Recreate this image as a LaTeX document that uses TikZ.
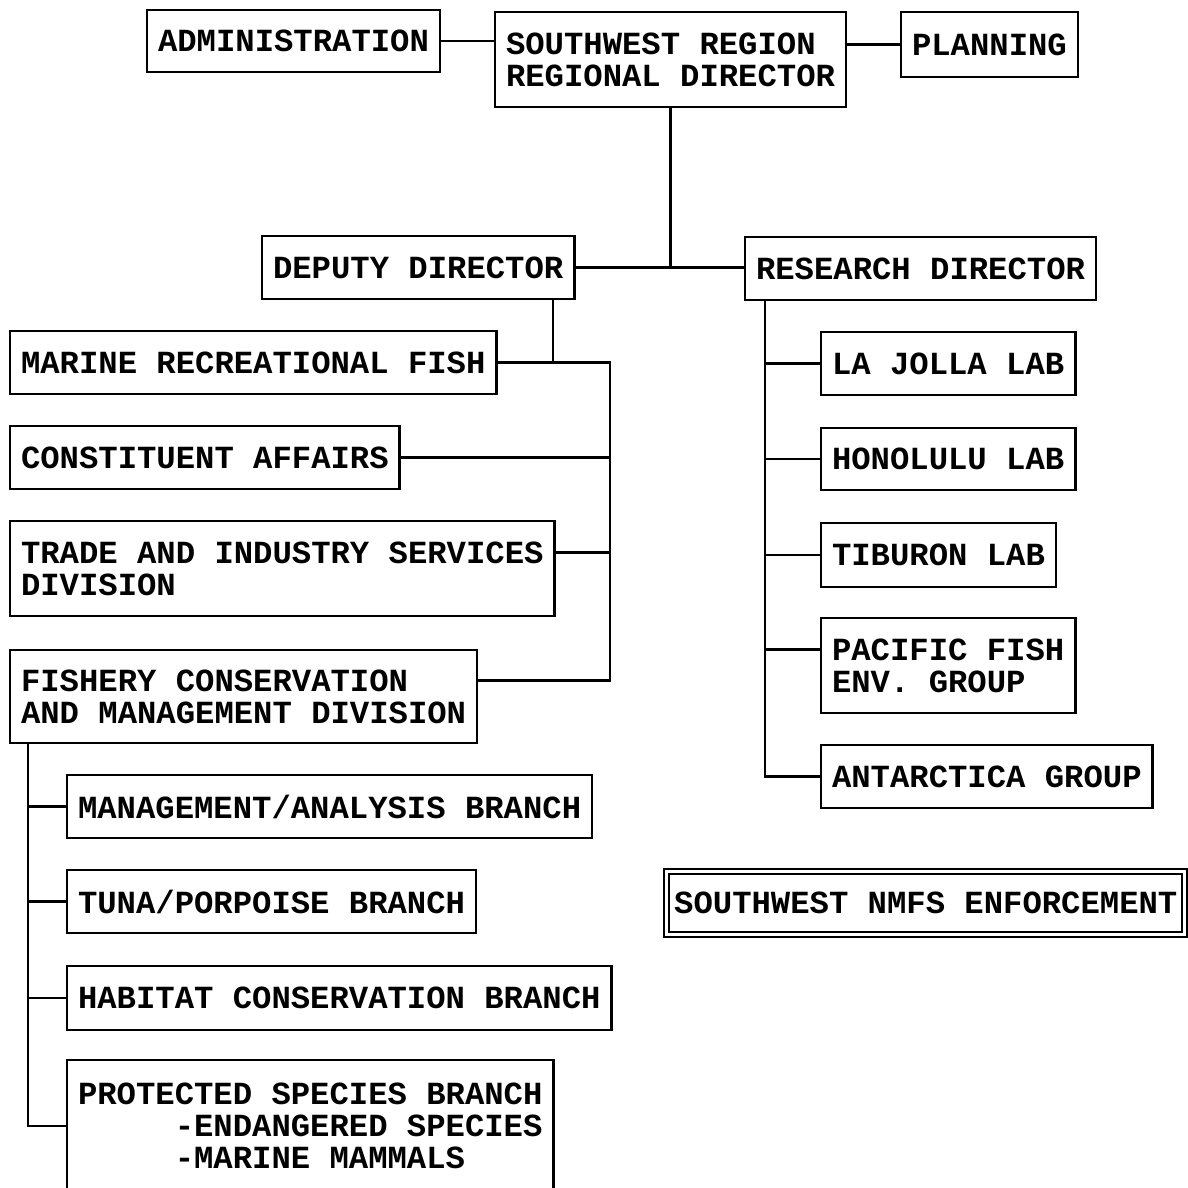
\documentclass[tikz,border=0pt]{standalone}
\usepackage{fontspec}
\setmonofont{Liberation Mono}
\begin{document}
\begin{tikzpicture}[x=1pt,y=-1pt,
  unit/.style={draw, line width=2.6pt, rectangle, anchor=north west, outer sep=0pt,
    inner xsep=11pt, inner ysep=0pt, align=left,
    font=\ttfamily\bfseries\fontsize{32.25}{32}\selectfont},
  one/.style={unit, minimum height=63pt},
  two/.style={unit, minimum height=95pt},
  link/.style={line width=2.6pt}]
\useasboundingbox (0,0) rectangle (1188,1187);
\clip (0,0) rectangle (1188,1187);

% top row
\node[unit, minimum height=62pt] (admin) at (147,10) {ADMINISTRATION};
\node[two] (sw) at (495,12) {SOUTHWEST REGION\\REGIONAL DIRECTOR};
\node[unit, minimum height=65pt] (planning) at (901,12) {PLANNING};

% directors
\node[one] (deputy) at (262,236) {DEPUTY DIRECTOR};
\node[one] (research) at (745,237) {RESEARCH DIRECTOR};

% deputy director's units
\node[one] (marine) at (10,331) {MARINE RECREATIONAL FISH};
\node[one] (constituent) at (10,426) {CONSTITUENT AFFAIRS};
\node[two] (trade) at (10,521) {TRADE AND INDUSTRY SERVICES\\DIVISION};
\node[unit, minimum height=93pt] (fishery) at (10,650) {FISHERY CONSERVATION\\AND MANAGEMENT DIVISION};

% fishery branches
\node[one] (mgmt) at (67,775) {MANAGEMENT/ANALYSIS BRANCH};
\node[one] (tuna) at (67,870) {TUNA/PORPOISE BRANCH};
\node[unit, minimum height=64pt] (habitat) at (67,966) {HABITAT CONSERVATION BRANCH};
\node[unit, minimum height=132pt] (protected) at (67,1060)
  {PROTECTED SPECIES BRANCH\\\phantom{PROTE}-ENDANGERED SPECIES\\\phantom{PROTE}-MARINE MAMMALS};

% research units
\node[one] (lajolla) at (821,332) {LA JOLLA LAB};
\node[unit, minimum height=62pt] (honolulu) at (821,428) {HONOLULU LAB};
\node[unit, minimum height=64pt] (tiburon) at (821,523) {TIBURON LAB};
\node[two] (pacific) at (821,618) {PACIFIC FISH\\ENV. GROUP};
\node[one] (antarctica) at (821,745) {ANTARCTICA GROUP};

% enforcement (double frame)
\node[unit, line width=2.2pt, double, double distance=3pt, inner xsep=7.5pt,
  minimum height=62.5pt] (enforce) at (666.7,871.7) {SOUTHWEST NMFS ENFORCEMENT};

% bus positions
\coordinate (dtap) at (553,0);
\coordinate (lbus) at (610,0);
\coordinate (fbus) at (28,0);
\coordinate (rbus) at (765,0);
\coordinate (tradetap) at ([yshift=16pt]trade.east);
\coordinate (fishtap) at ([yshift=16pt]fishery.east);
\coordinate (pactap) at ([yshift=16pt]pacific.west);

% top connections
\draw[link] (admin.east) -- (admin.east -| sw.west);
\draw[link] (planning.west) -- (planning.west -| sw.east);
\draw[link] (sw.south) -- (sw.south |- deputy.east);
\draw[link] (deputy.east) -- (deputy.east -| research.west);

% deputy director side
\draw[link] (dtap |- deputy.south) -- (dtap |- marine.east);
\draw[link] (marine.east) -- (marine.east -| lbus) -- (fishtap -| lbus) -- (fishtap);
\draw[link] (constituent.east) -- (constituent.east -| lbus);
\draw[link] (tradetap) -- (tradetap -| lbus);

% fishery branches
\draw[link] (fbus |- fishery.south) -- (fbus |- protected.west) -- (protected.west);
\foreach \n in {mgmt,tuna,habitat}
  \draw[link] (\n.west) -- (\n.west -| fbus);

% research side
\draw[link] (rbus |- research.south) -- (rbus |- antarctica.west) -- (antarctica.west);
\foreach \n in {lajolla,honolulu,tiburon}
  \draw[link] (\n.west) -- (\n.west -| rbus);
\draw[link] (pactap) -- (pactap -| rbus);
\end{tikzpicture}
\end{document}
